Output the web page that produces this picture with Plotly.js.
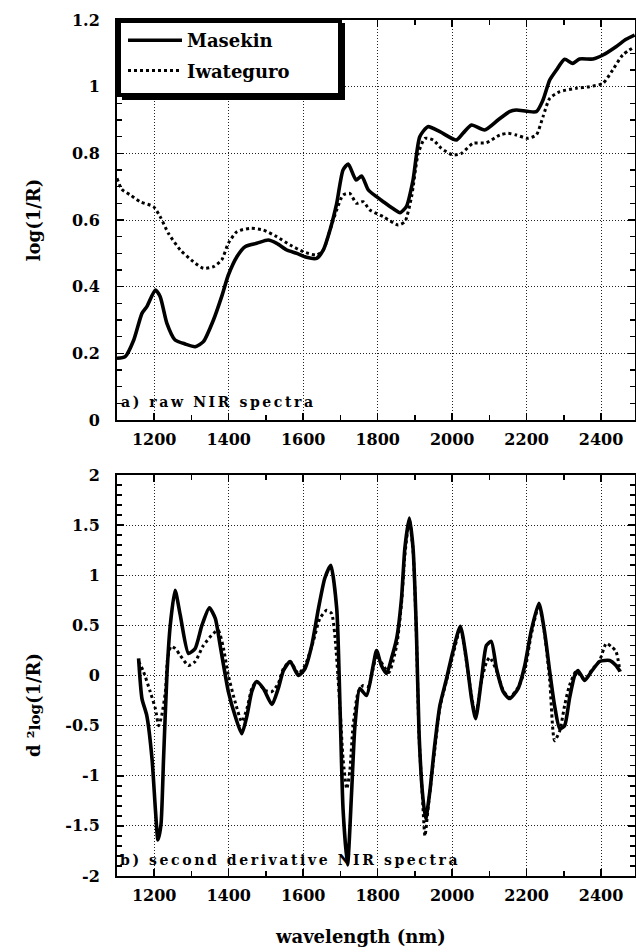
<!DOCTYPE html>
<html>
<head>
<meta charset="utf-8">
<script src="https://cdn.plot.ly/plotly-3.0.1.min.js"></script>
<style>
html,body{margin:0;padding:0;background:#fff;}
#chart{width:636px;height:948px;}
</style>
</head>
<body>
<div id="chart"></div>
<script>
// ---- data ----
const seriesNames = ['Masekin', 'Iwateguro'];

// a) raw NIR spectra, log(1/R)
const rawWlMasekin = [1100,1122,1145,1167,1180,1203,1216,1234,1256,1283,1310,1332,1359,1381,1399,1422,1444,1475,1506,1529,1556,1583,1609,1636,1654,1672,1690,1707,1721,1742,1757,1775,1797,1815,1840,1860,1877,1895,1913,1935,1967,2011,2029,2052,2087,2123,2154,2172,2226,2244,2262,2280,2302,2324,2342,2378,2405,2440,2467,2490];
const rawMasekin = [0.185,0.19,0.24,0.32,0.34,0.39,0.37,0.29,0.24,0.228,0.22,0.235,0.30,0.37,0.435,0.49,0.52,0.53,0.54,0.53,0.51,0.50,0.488,0.485,0.51,0.57,0.65,0.75,0.768,0.72,0.732,0.69,0.67,0.655,0.635,0.622,0.64,0.72,0.85,0.88,0.865,0.84,0.86,0.885,0.87,0.90,0.925,0.93,0.925,0.96,1.02,1.05,1.082,1.07,1.083,1.083,1.095,1.12,1.142,1.155];

const rawWlIwateguro = [1100,1113,1136,1162,1198,1216,1238,1270,1305,1332,1359,1381,1399,1422,1457,1493,1529,1565,1600,1636,1654,1672,1690,1707,1725,1743,1761,1779,1815,1855,1873,1891,1909,1927,1949,1971,2002,2025,2056,2092,2128,2150,2172,2203,2226,2244,2262,2289,2333,2369,2405,2431,2458,2490];
const rawIwateguro = [0.725,0.692,0.675,0.655,0.64,0.61,0.56,0.51,0.475,0.455,0.46,0.48,0.53,0.565,0.575,0.57,0.55,0.525,0.505,0.495,0.51,0.57,0.63,0.675,0.68,0.65,0.655,0.63,0.61,0.585,0.595,0.67,0.80,0.845,0.84,0.815,0.795,0.80,0.83,0.832,0.855,0.86,0.855,0.845,0.855,0.91,0.965,0.985,0.995,1.00,1.01,1.05,1.095,1.12];

// b) second derivative NIR spectra
const d2WlMasekin = [1158,1167,1180,1194,1203,1210,1218,1225,1234,1243,1256,1270,1292,1310,1328,1348,1364,1377,1399,1417,1435,1449,1462,1475,1493,1516,1533,1547,1565,1587,1605,1623,1641,1658,1674,1690,1699,1707,1719,1730,1739,1752,1770,1788,1797,1810,1824,1837,1851,1864,1873,1885,1895,1904,1911,1920,1929,1940,1953,1967,1985,2002,2022,2038,2052,2063,2079,2092,2105,2119,2137,2154,2177,2195,2212,2233,2248,2262,2275,2289,2302,2315,2329,2338,2356,2374,2396,2423,2440,2451];
const d2Masekin = [0.17,-0.23,-0.40,-0.83,-1.33,-1.64,-1.49,-0.83,0,0.5,0.85,0.6,0.22,0.27,0.5,0.675,0.57,0.3,-0.16,-0.4,-0.58,-0.4,-0.16,-0.06,-0.13,-0.29,-0.13,0.05,0.14,0,0.07,0.3,0.67,0.97,1.1,0.67,-0.33,-1.33,-1.89,-1.16,-0.5,-0.13,-0.2,0.1,0.25,0.1,0.02,0.17,0.37,0.77,1.27,1.57,1.27,0.44,-0.56,-1.16,-1.43,-1.16,-0.7,-0.3,-0.03,0.24,0.49,0.17,-0.23,-0.43,-0.03,0.3,0.34,0.07,-0.16,-0.23,-0.13,0.1,0.44,0.72,0.44,0.04,-0.3,-0.53,-0.5,-0.23,0,0.05,-0.05,0.04,0.14,0.15,0.1,0.04];

const d2WlIwateguro = [1158,1171,1189,1203,1212,1220,1230,1236,1245,1256,1270,1292,1310,1332,1359,1372,1386,1399,1417,1435,1449,1462,1475,1498,1516,1533,1547,1565,1587,1605,1627,1645,1663,1676,1685,1699,1707,1717,1725,1734,1748,1761,1775,1788,1797,1815,1830,1851,1864,1873,1885,1895,1904,1911,1920,1927,1936,1953,1967,1985,2002,2022,2038,2052,2063,2079,2092,2101,2119,2137,2154,2177,2195,2212,2233,2248,2262,2275,2289,2302,2315,2333,2356,2374,2396,2414,2430,2440,2451];
const d2Iwateguro = [0.14,0.04,-0.16,-0.33,-0.5,-0.4,-0.16,0.17,0.29,0.27,0.2,0.1,0.14,0.3,0.42,0.45,0.27,0,-0.26,-0.46,-0.33,-0.13,-0.06,-0.15,-0.16,-0.08,0.07,0.14,0.02,0.1,0.34,0.57,0.65,0.62,0.4,-0.33,-0.83,-1.13,-0.96,-0.5,-0.16,-0.1,-0.11,0.07,0.2,0.1,0.03,0.3,0.72,1.2,1.55,1.25,0.4,-0.6,-1.2,-1.6,-1.3,-0.75,-0.32,-0.05,0.2,0.47,0.15,-0.2,-0.4,-0.05,0.13,0.18,0.05,-0.15,-0.22,-0.12,0.05,0.4,0.7,0.42,-0.05,-0.65,-0.55,-0.3,-0.1,0.04,-0.04,0.05,0.15,0.32,0.28,0.24,0.04];

// tick labels
const rawTickVals = [0, 0.2, 0.4, 0.6, 0.8, 1, 1.2];
const rawTickText = ['0', '0.2', '0.4', '0.6', '0.8', '1', '1.2'];
const d2TickVals = [-2, -1.5, -1, -0.5, 0, 0.5, 1, 1.5, 2];
const d2TickText = ['-2', '-1.5', '-1', '-0.5', '0', '0.5', '1', '1.5', '2'];
const wlTickVals = [1200, 1400, 1600, 1800, 2000, 2200, 2400];
const wlTickText = ['1200', '1400', '1600', '1800', '2000', '2200', '2400'];

// ---- layout geometry ----
const W = 636, H = 948;
const M = {l: 117, r: 1, t: 20, b: 72};
const PW = W - M.l - M.r, PH = H - M.t - M.b;
const px2x = p => (p - M.l) / PW;
const px2y = p => (H - M.b - p) / PH;

const FONT = 'DejaVu Serif';
const solid = {color: '#000', width: 3.6, shape: 'spline', smoothing: 0.6};
const dotted = {color: '#000', width: 3, dash: 'dot', shape: 'spline', smoothing: 0.6};

const traces = [
  {x: rawWlMasekin, y: rawMasekin, name: seriesNames[0], mode: 'lines', line: solid, xaxis: 'x', yaxis: 'y', legendgroup: 'm'},
  {x: rawWlIwateguro, y: rawIwateguro, name: seriesNames[1], mode: 'lines', line: dotted, xaxis: 'x', yaxis: 'y', legendgroup: 'i'},
  {x: d2WlMasekin, y: d2Masekin, name: seriesNames[0], mode: 'lines', line: solid, xaxis: 'x2', yaxis: 'y2', legendgroup: 'm', showlegend: false},
  {x: d2WlIwateguro, y: d2Iwateguro, name: seriesNames[1], mode: 'lines', line: dotted, xaxis: 'x2', yaxis: 'y2', legendgroup: 'i', showlegend: false}
];

const tickFont = {family: FONT, size: 16, color: '#000', weight: 'bold'};
const common = {
  showline: true, linecolor: '#000', linewidth: 2, mirror: 'ticks',
  ticks: 'inside', ticklen: 7, tickwidth: 1.5, tickcolor: '#000',
  showgrid: true, gridcolor: '#222', griddash: '1px,2px', gridwidth: 1,
  zeroline: false, tickfont: tickFont, fixedrange: true
};
function xa(anchor) {
  return Object.assign({}, common, {
    anchor: anchor, domain: [0, 1], range: [1100, 2491],
    tickmode: 'array', tickvals: wlTickVals, ticktext: wlTickText,
    ticklabelstandoff: 4,
    minor: {dtick: 100, tick0: 1100, ticks: 'inside', ticklen: 5, tickwidth: 1.5, tickcolor: '#000', showgrid: false}
  });
}

const labelFont = {family: FONT, size: 14, color: '#000', weight: 'bold'};

const layout = {
  width: W, height: H,
  margin: M,
  paper_bgcolor: '#fff', plot_bgcolor: '#fff',
  font: {family: FONT, color: '#000', weight: 'bold'},
  showlegend: true,
  legend: {
    x: px2x(123), y: px2y(22), xanchor: 'left', yanchor: 'top',
    bgcolor: 'rgba(0,0,0,0)', borderwidth: 0,
    itemwidth: 54, tracegroupgap: 4,
    font: {family: FONT, size: 18, color: '#000', weight: 'bold'}
  },
  xaxis: xa('y'),
  xaxis2: xa('y2'),
  yaxis: Object.assign({}, common, {
    anchor: 'x', domain: [px2y(420), 1], range: [0, 1.2],
    tickmode: 'array', tickvals: rawTickVals, ticktext: rawTickText,
    ticklabelstandoff: 12,
    minor: {dtick: 0.05, tick0: 0, ticks: 'inside', ticklen: 5, tickwidth: 1.5, tickcolor: '#000', showgrid: false},
    title: {text: 'log(1/R)', font: {family: FONT, size: 18, color: '#000', weight: 'bold'}, standoff: 27}
  }),
  yaxis2: Object.assign({}, common, {
    anchor: 'x2', domain: [0, px2y(475)], range: [-2, 2],
    tickmode: 'array', tickvals: d2TickVals, ticktext: d2TickText,
    ticklabelstandoff: 12,
    minor: {dtick: 0.1, tick0: 0, ticks: 'inside', ticklen: 5, tickwidth: 1.5, tickcolor: '#000', showgrid: false}
  }),
  shapes: [
    {type: 'rect', xref: 'paper', yref: 'paper', layer: 'above',
     x0: px2x(122), x1: px2x(345), y0: px2y(100), y1: px2y(23),
     fillcolor: '#000', line: {width: 0}},
    {type: 'rect', xref: 'paper', yref: 'paper', layer: 'above',
     x0: px2x(119), x1: px2x(340), y0: px2y(95), y1: px2y(21),
     fillcolor: '#fff', line: {color: '#000', width: 4}}
  ],
  annotations: [
    {text: '<span style="letter-spacing:2.6px">a) raw NIR spectra</span>', xref: 'paper', yref: 'paper',
     x: px2x(119), y: px2y(402), xanchor: 'left', yanchor: 'middle', showarrow: false,
     font: labelFont},
    {text: '<span style="letter-spacing:2.6px">b) second derivative NIR spectra</span>', xref: 'paper', yref: 'paper',
     x: px2x(118), y: px2y(860), xanchor: 'left', yanchor: 'middle', showarrow: false,
     font: labelFont},
    {text: 'd ²<span style="font-size:15px">log</span>(1/R)', xref: 'paper', yref: 'paper',
     x: px2x(33), y: px2y(705), xanchor: 'center', yanchor: 'middle', textangle: -90, showarrow: false,
     font: {family: FONT, size: 18, color: '#000', weight: 'bold'}},
    {text: 'wavelength (nm)', xref: 'paper', yref: 'paper',
     x: px2x(360), y: px2y(936), xanchor: 'center', yanchor: 'middle', showarrow: false,
     font: {family: FONT, size: 18, color: '#000', weight: 'bold'}}
  ]
};

Plotly.newPlot('chart', traces, layout, {displayModeBar: false, staticPlot: true});
</script>
</body>
</html>
